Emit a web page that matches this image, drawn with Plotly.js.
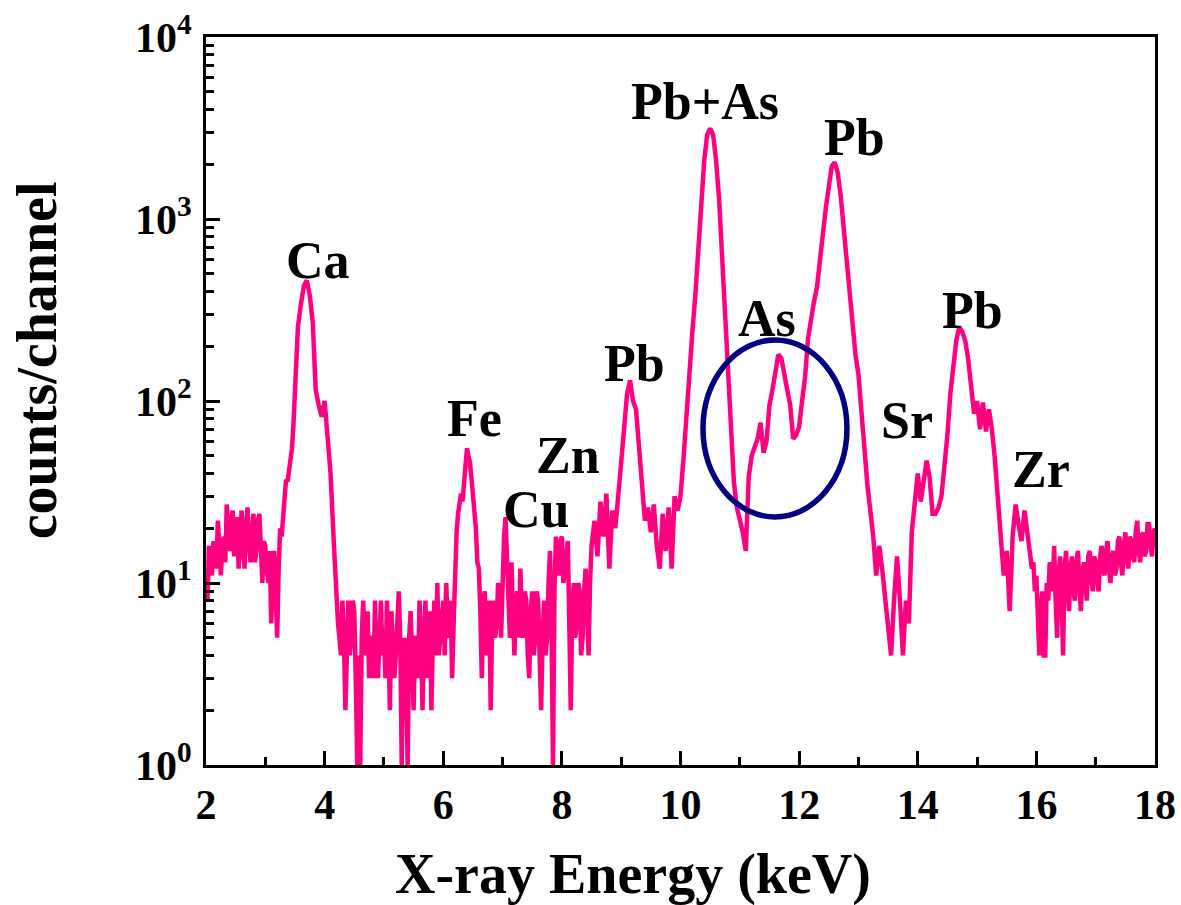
<!DOCTYPE html>
<html>
<head>
<meta charset="utf-8">
<script src="https://cdn.plot.ly/plotly-3.0.1.min.js"></script>
<style>html,body{margin:0;padding:0;background:#fff;}#chart{width:1181px;height:905px;}</style>
</head>
<body>
<div id="chart"></div>
<script>
// Spectrum, in segments: each has a first channel energy (keV)
// and a channel step (keV). counts/channel values below.
const segStart = [2.0, 3.5, 4.2, 8.5, 15.9];
const segStep  = [0.025, 0.05, 0.025, 0.05, 0.025];

const countsA = [ // 2.000 - 3.475 keV
  12, 8, 16, 13, 11, 17, 14, 12, 22, 15, 11, 16, 18, 13, 27, 19, 15, 22, 25, 14,
  17, 23, 12, 20, 25, 16, 12, 21, 26, 17, 13, 19, 24, 13, 15, 22, 24, 16, 10, 17,
  16, 12, 10, 15, 6, 11, 15, 9, 5, 12, 20, 18, 23, 30, 37, 36, 42, 48, 55, 75
];
const countsB = [ // 3.50 - 4.15 keV (Ca)
  110, 255, 340, 430, 460, 380, 270, 115, 95, 82, 100, 60, 40, 18
];
const countsC = [ // 4.200 - 8.475 keV
  7, 6, 5, 4, 8, 5, 2, 6, 8, 4, 5, 8, 7, 3, 1, 4, 1, 5, 8, 5, 4, 7, 3, 5, 5, 3, 8, 4, 3, 5, 8, 4,
  5, 3, 8, 5, 2, 7, 5, 3, 4, 7, 9, 5, 1, 4, 5, 3, 1, 5, 7, 4, 2, 5, 5, 3, 8, 5, 2, 5,
  8, 3, 4, 7, 2, 5, 8, 4, 10, 4, 5, 7,
  8, 4, 10, 6, 5, 8, 3, 6, 14, 19, 24, 29, 31, 28, 35, 45, 55, 50, 46, 38,
  30, 24, 20, 13, 12, 7, 3, 8, 9, 4, 5, 8, 2, 6, 8, 5, 6, 10, 9, 5,
  12, 18, 23, 11, 8, 5, 13, 7, 4, 8, 9, 5, 12, 7, 5, 9, 8, 4, 3, 7,
  9, 4, 5, 9, 8, 4, 2, 5, 8, 4, 5, 10, 15, 6, 1, 9, 18, 12, 11, 17,
  18, 10, 12, 15, 17, 6, 2, 7, 10, 5, 6, 10, 9, 4, 5, 9, 12, 7, 4, 10
];
const countsD = [ // 8.50 - 15.85 keV
  16, 22, 14, 28, 18, 31, 12, 25, 20, 30,
  45, 70, 110, 130, 100, 90, 55, 35, 22, 26, 19, 27, 16, 12, 24, 15, 26, 12, 30, 25,
  30, 48, 85, 150, 240, 380, 700, 1300, 2100, 2900, 3150, 2900, 2100, 1300, 600, 330, 160, 70, 36, 26,
  22, 19, 15, 38, 50, 56, 62, 76, 52, 60, 95, 115, 140, 180, 172, 135, 115, 95, 62, 65,
  72, 100, 135, 220, 290, 350, 420, 600, 850, 1150, 1500, 1950, 2050, 1800, 1350, 900, 560, 380, 250, 180,
  140, 85, 55, 35, 25, 18, 11, 16, 12, 8, 6, 4, 8, 14, 8, 4, 8, 6, 19, 30,
  40, 28, 36, 47, 38, 24, 24, 26, 30, 43, 65, 110, 165, 215, 255, 240, 215, 170, 120, 85,
  100, 70, 98, 68, 90, 70, 48, 28, 18, 11, 15, 7, 18, 27, 21, 17, 25, 19
];
const countsE = [ // 15.900 - 18.000 keV
  15, 12, 13, 9,
  11, 6, 4, 7, 9, 4, 4, 10, 8, 13, 12, 9, 16, 8, 5, 11, 14, 9, 4, 12,
  15, 10, 7, 12, 14, 9, 8, 13, 15, 10, 7, 11, 13, 10, 8, 14, 15, 11, 9, 14,
  13, 10, 9, 14, 16, 12, 11, 15, 17, 12, 10, 14, 15, 11, 12, 17, 18, 13, 11, 16,
  19, 14, 12, 18, 17, 14, 13, 19, 22, 15, 13, 18, 19, 14, 15, 21, 21, 16, 14, 19,
  20
];

// Peak labels
const peakLabels = ['Ca', 'Fe', 'Cu', 'Zn', 'Pb', 'Pb+As', 'As', 'Pb', 'Sr', 'Pb', 'Zr'];
const labelEnergy = [3.89, 6.53, 7.56, 8.10, 9.23, 10.41, 11.46, 12.93, 13.82, 14.92, 16.07];
const labelCounts = [595, 80, 25.5, 50, 160, 4400, 285, 2800, 78, 315, 42];

// Axis ticks
const xTickVals = [2, 4, 6, 8, 10, 12, 14, 16, 18];
const yTickVals = [1, 10, 100, 1000, 10000];
const yTickText = ['10<sup>0</sup>', '10<sup>1</sup>', '10<sup>2</sup>', '10<sup>3</sup>', '10<sup>4</sup>'];

const segments = [countsA, countsB, countsC, countsD, countsE];
const energy = [], counts = [];
segments.forEach((seg, s) => {
  seg.forEach((v, i) => {
    energy.push(+(segStart[s] + i * segStep[s]).toFixed(3));
    counts.push(v);
  });
});

const yMinor = [];
[1, 10, 100, 1000].forEach(d => { for (let k = 2; k <= 9; k++) yMinor.push(d * k); });

const FONT = 'Liberation Serif, Times New Roman, serif';

const trace = {
  x: energy, y: counts, type: 'scatter', mode: 'lines',
  line: {color: '#FF0080', width: 4.5, shape: 'linear'},
  hoverinfo: 'x+y'
};

const annotations = peakLabels.map((t, i) => ({
  text: t, x: labelEnergy[i], y: Math.log10(labelCounts[i]), xref: 'x', yref: 'y',
  showarrow: false, xanchor: 'center', yanchor: 'middle',
  font: {family: FONT, size: 52, color: '#000', weight: 'bold'}
}));
annotations.push({
  text: 'X-ray Energy (keV)', xref: 'paper', yref: 'paper', x: 0.45, y: -0.151,
  showarrow: false, xanchor: 'center', yanchor: 'middle',
  font: {family: FONT, size: 56, color: '#000', weight: 'bold'}
});
annotations.push({
  text: 'counts/channel', xref: 'paper', yref: 'paper', x: -0.178, y: 0.556, textangle: -90,
  showarrow: false, xanchor: 'center', yanchor: 'middle',
  font: {family: FONT, size: 56, color: '#000', weight: 'bold'}
});

const layout = {
  width: 1181, height: 905,
  margin: {l: 206, r: 26, t: 37, b: 140, pad: 0},
  paper_bgcolor: '#fff', plot_bgcolor: '#fff',
  showlegend: false,
  font: {family: FONT, color: '#000'},
  xaxis: {
    range: [2, 18], tickmode: 'array', tickvals: xTickVals,
    ticks: 'inside', ticklen: 14, tickwidth: 3, tickcolor: '#000',
    showline: true, linewidth: 3, linecolor: '#000', mirror: true,
    showgrid: false, zeroline: false,
    tickfont: {family: FONT, size: 42, color: '#000', weight: 'bold'},
    ticklabelstandoff: 1,
    minor: {ticks: 'inside', ticklen: 8, tickwidth: 3, tickcolor: '#000', dtick: 1, tick0: 2, showgrid: false}
  },
  yaxis: {
    type: 'log', range: [0, 4], tickmode: 'array', tickvals: yTickVals, ticktext: yTickText,
    ticks: 'inside', ticklen: 14, tickwidth: 3, tickcolor: '#000',
    showline: true, linewidth: 3, linecolor: '#000', mirror: true,
    showgrid: false, zeroline: false,
    tickfont: {family: FONT, size: 42, color: '#000', weight: 'bold'},
    ticklabelstandoff: 3,
    minor: {tickmode: 'array', tickvals: yMinor, ticks: 'inside', ticklen: 8, tickwidth: 3, tickcolor: '#000', showgrid: false}
  },
  shapes: [{
    type: 'circle', xref: 'paper', yref: 'paper',
    x0: 0.5237, x1: 0.6754, y0: 0.3407, y1: 0.5838,
    line: {color: '#000080', width: 5.5}
  }],
  annotations: annotations
};

Plotly.newPlot('chart', [trace], layout, {displayModeBar: false, staticPlot: true});
</script>
</body>
</html>
